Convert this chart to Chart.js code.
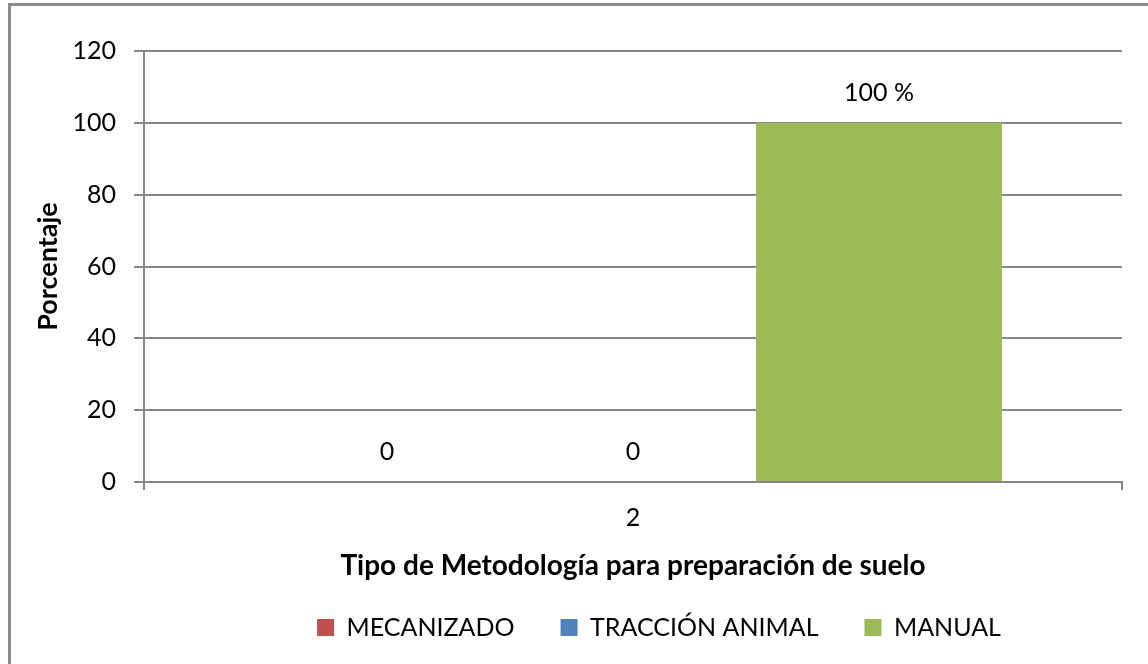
<!DOCTYPE html>
<html><head><meta charset="utf-8">
<script src="https://cdn.jsdelivr.net/npm/chart.js@4"></script>
<style>
html,body{margin:0;padding:0;background:#fff;overflow:hidden}
#frame{position:absolute;left:8px;top:3px;width:1200px;height:720px;border:3px solid #8c8c8c;box-sizing:border-box}
#wrap{position:absolute;left:0;top:0;width:1148px;height:664px}
</style></head><body>
<div id="frame"></div>
<div id="wrap"><canvas id="c" width="1148" height="664"></canvas></div>
<script>
const categories = ["2"];
const seriesNames = ["MECANIZADO", "TRACCIÓN ANIMAL", "MANUAL"];
const mecanizado = [0];
const traccionAnimal = [0];
const manual = [100];
const labelSuffixes = ["", "", " %"];
const yMin = 0, yMax = 120, yStep = 20;
const colors = ["#C0504D", "#4F81BD", "#9BBB59"];
const yTitle = "Porcentaje";
const xTitle = "Tipo de Metodología para preparación de suelo";

const FONT = "Lato, 'Open Sans', sans-serif";
const GRID = "#868686";

const valueLabels = {
  id: "valueLabels",
  afterDatasetsDraw(chart) {
    const ctx = chart.ctx;
    ctx.save();
    ctx.font = "25px " + FONT;
    ctx.fillStyle = "#000";
    ctx.textAlign = "center";
    ctx.textBaseline = "middle";
    chart.data.datasets.forEach((ds, i) => {
      const meta = chart.getDatasetMeta(i);
      meta.data.forEach((bar, j) => {
        ctx.fillText(String(ds.data[j]) + labelSuffixes[i], bar.x, bar.y - 30);
      });
    });
    ctx.restore();
  }
};

const legendShift = {
  id: "legendShift",
  afterLayout(chart) {
    if (chart.legend) { chart.legend.left += 26; chart.legend.right += 26; }
  }
};

const series = [mecanizado, traccionAnimal, manual];
new Chart(document.getElementById("c"), {
  type: "bar",
  data: {
    labels: categories,
    datasets: series.map((d, i) => ({
      label: seriesNames[i],
      data: d,
      backgroundColor: colors[i],
      borderWidth: 0,
      categoryPercentage: 0.7546,
      barPercentage: 1.0
    }))
  },
  options: {
    responsive: false,
    devicePixelRatio: 1,
    animation: false,
    layout: { padding: { top: 51, left: 10, right: 26, bottom: 14 } },
    plugins: {
      tooltip: { enabled: false },
      legend: {
        position: "bottom",
        fullSize: false,
        labels: {
          boxWidth: 17, boxHeight: 17, padding: 46,
          color: "#000",
          font: { family: FONT, size: 25 }
        }
      }
    },
    scales: {
      x: {
        afterFit: (s) => { s.height = 87; },
        grid: { offset: true, drawOnChartArea: false, drawTicks: true, tickLength: 8, color: GRID, lineWidth: 2 },
        border: { display: true, color: GRID, width: 2 },
        ticks: { color: "#000", font: { family: FONT, size: 25 }, padding: 13 },
        title: { display: true, text: xTitle, color: "#000", font: { family: FONT, size: 28, weight: "bold" }, padding: { top: 0, bottom: -14 } }
      },
      y: {
        min: yMin, max: yMax,
        afterFit: (s) => { s.width = 134; },
        ticks: { stepSize: yStep, color: "#000", font: { family: FONT, size: 25 }, padding: 18 },
        grid: { color: GRID, lineWidth: 2, tickLength: 10 },
        border: { display: true, color: GRID, width: 2 },
        title: { display: true, text: yTitle, color: "#000", font: { family: FONT, size: 27, weight: "bold" }, padding: { top: 22, bottom: 0 } }
      }
    }
  },
  plugins: [valueLabels, legendShift]
});
</script>
</body></html>
